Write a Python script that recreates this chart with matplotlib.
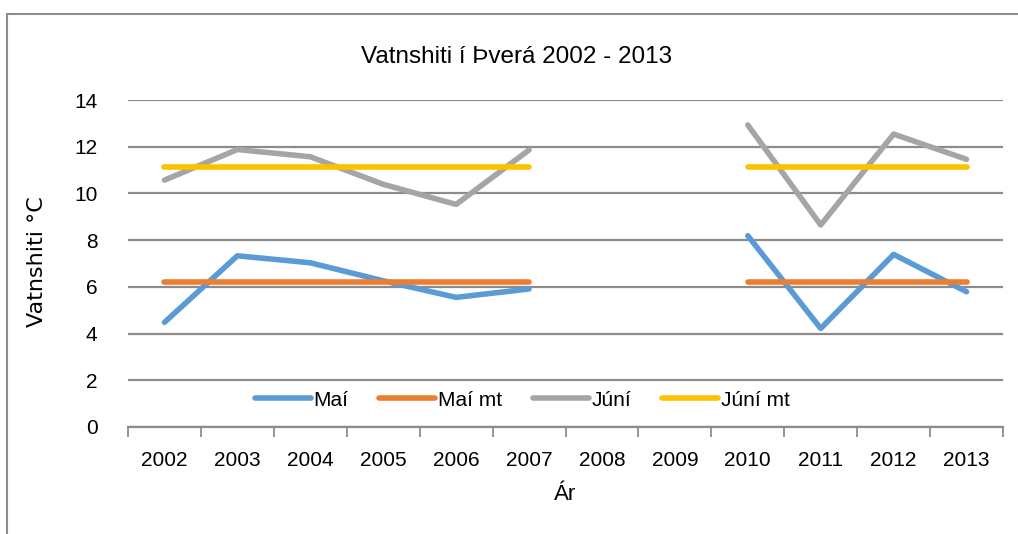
import numpy as np
import matplotlib.pyplot as plt
from matplotlib.patches import Rectangle

years = ['2002', '2003', '2004', '2005', '2006', '2007', '2008', '2009',
         '2010', '2011', '2012', '2013']
mai = [4.48, 7.33, 7.03, 6.26, 5.55, 5.91, np.nan, np.nan, 8.19, 4.22, 7.39, 5.79]
mai_mt = [6.19, 6.19, 6.19, 6.19, 6.19, 6.19, np.nan, np.nan, 6.19, 6.19, 6.19, 6.19]
juni = [10.57, 11.88, 11.57, 10.39, 9.53, 11.86, np.nan, np.nan, 12.93, 8.65, 12.54, 11.46]
juni_mt = [11.13, 11.13, 11.13, 11.13, 11.13, 11.13, np.nan, np.nan, 11.13, 11.13, 11.13, 11.13]

plt.rcParams['font.family'] = ['Liberation Sans', 'DejaVu Sans']

fig = plt.figure(figsize=(10.18, 5.34), dpi=100)
ax = fig.add_axes([128 / 1018, 1 - 427 / 534, 875 / 1018, 327 / 534])

# chart area border (cropped on right and bottom)
fig.patches.append(Rectangle((7 / 1018, -0.1), 1.2, 1 - 14 / 534 + 0.1,
                             transform=fig.transFigure, fill=False,
                             edgecolor='#8c8c8c', linewidth=1.5))

x = np.arange(len(years))
lw = 4
ax.plot(x, mai, color='#5B9BD5', lw=lw, solid_capstyle='round', label='Maí', zorder=3)
ax.plot(x, mai_mt, color='#ED7D31', lw=lw, solid_capstyle='round', label='Maí mt', zorder=3)
ax.plot(x, juni, color='#A5A5A5', lw=lw, solid_capstyle='round', label='Júní', zorder=3)
ax.plot(x, juni_mt, color='#FFC000', lw=lw, solid_capstyle='round', label='Júní mt', zorder=3)

ax.set_xlim(-0.5, len(years) - 0.5)
ax.set_ylim(0, 14)
ax.set_yticks(range(0, 15, 2))
ax.grid(axis='y', color='#8c8c8c', linewidth=1.6, zorder=0)
ax.set_axisbelow(True)

ax.set_xticks(x)
ax.set_xticklabels(years, fontsize=15)
ax.set_xticks(np.arange(-0.5, len(years)), minor=True)
ax.tick_params(axis='x', which='major', length=0, pad=17)
ax.tick_params(axis='x', which='minor', length=7, width=1.3, color='#8c8c8c')
ax.tick_params(axis='y', length=0, labelsize=15, pad=22)

for s in ['left', 'right', 'top']:
    ax.spines[s].set_visible(False)
ax.spines['bottom'].set_color('#8c8c8c')
ax.spines['bottom'].set_linewidth(1.6)

fig.text(517 / 1018, 1 - 57 / 534, 'Vatnshiti í Þverá 2002 - 2013', fontsize=17.5,
         ha='center', va='center')
fig.text(37 / 1018, 1 - 262 / 534, 'Vatnshiti °C', fontsize=16, rotation=90,
         ha='center', va='center', family='DejaVu Sans')
fig.text(565 / 1018, 1 - 495 / 534, 'Ár', fontsize=16, ha='center', va='center')

fig.legend(loc='center', bbox_to_anchor=(522 / 1018, 1 - 400 / 534), ncol=4,
           frameon=False, fontsize=15, handlelength=2.7, handletextpad=0.1,
           columnspacing=1.5)

plt.savefig('out.png')
